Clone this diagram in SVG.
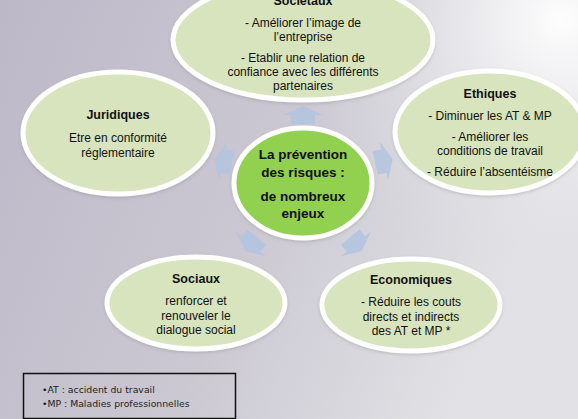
<svg xmlns="http://www.w3.org/2000/svg" width="578" height="419" viewBox="0 0 578 419">
<defs>
<linearGradient id="bg" x1="0" y1="0" x2="1" y2="0.3">
<stop offset="0" stop-color="#bdb8c8"/>
<stop offset="0.55" stop-color="#cbc8d2"/>
<stop offset="1" stop-color="#e2e2e6"/>
</linearGradient>
<radialGradient id="glow" cx="560" cy="20" r="260" gradientUnits="userSpaceOnUse">
<stop offset="0" stop-color="#ffffff" stop-opacity="0.95"/>
<stop offset="0.4" stop-color="#f2f2f4" stop-opacity="0.6"/>
<stop offset="1" stop-color="#e0e0e4" stop-opacity="0"/>
</radialGradient>
<filter id="sh" x="-10%" y="-10%" width="120%" height="125%">
<feDropShadow dx="0" dy="1.5" stdDeviation="1.5" flood-color="#666" flood-opacity="0.25"/>
</filter>
<polygon id="arr" points="0,-9 19.5,0 12,0 12,9 -12,9 -12,0 -19.5,0"/>
</defs>
<style>
.node{fill:#d7e4bd;stroke:#ffffff;stroke-width:5;filter:url(#sh)}
.hub{fill:#92d050;stroke:#ffffff;stroke-width:5;filter:url(#sh)}
text{font-family:"Liberation Sans",Arial,sans-serif;fill:#111;text-anchor:middle}
.t{font-size:12.5px;font-weight:bold}
.b{font-size:12px}
.c{font-size:13.5px;font-weight:bold}
.arrow{fill:#b0c4df;opacity:0.85}
.leg{font-family:"DejaVu Sans",Verdana,sans-serif;font-size:9.3px;text-anchor:start;fill:#222}
</style>
<rect width="578" height="419" fill="url(#bg)"/>
<rect width="578" height="419" fill="url(#glow)"/>

<g id="connectors">
<use href="#arr" class="arrow" transform="translate(303,115)"/>
<use href="#arr" class="arrow" transform="translate(223,161) rotate(-78)"/>
<use href="#arr" class="arrow" transform="translate(384,161) rotate(78)"/>
<use href="#arr" class="arrow" transform="translate(251,244) rotate(-140)"/>
<use href="#arr" class="arrow" transform="translate(356,244) rotate(140)"/>
</g>

<g id="societaux">
<ellipse class="node" cx="303" cy="40" rx="130" ry="60"/>
<text class="t" x="303" y="5">Sociétaux</text>
<text class="b" x="303" y="27">- Améliorer l’image de</text>
<text class="b" x="303" y="41">l’entreprise</text>
<text class="b" x="303" y="62">- Etablir une relation de</text>
<text class="b" x="303" y="76">confiance avec les différents</text>
<text class="b" x="303" y="90">partenaires</text>
</g>

<g id="juridiques">
<ellipse class="node" cx="118" cy="133" rx="95" ry="61"/>
<text class="t" x="118" y="119">Juridiques</text>
<text class="b" x="118" y="142">Etre en conformité</text>
<text class="b" x="118" y="157">réglementaire</text>
</g>

<g id="ethiques">
<ellipse class="node" cx="490" cy="132" rx="95" ry="61"/>
<text class="t" x="490" y="98">Ethiques</text>
<text class="b" x="490" y="120">- Diminuer les AT  &amp; MP</text>
<text class="b" x="490" y="141">- Améliorer les</text>
<text class="b" x="490" y="155">conditions de travail</text>
<text class="b" x="490" y="176">- Réduire l’absentéisme</text>
</g>

<g id="centre">
<ellipse class="hub" cx="303" cy="183" rx="69" ry="55"/>
<text class="c" x="303" y="159">La prévention</text>
<text class="c" x="303" y="177">des risques  :</text>
<text class="c" x="303" y="201">de nombreux</text>
<text class="c" x="303" y="218">enjeux</text>
</g>

<g id="sociaux">
<ellipse class="node" cx="196" cy="303" rx="89" ry="46"/>
<text class="t" x="196" y="283">Sociaux</text>
<text class="b" x="196" y="305">renforcer et</text>
<text class="b" x="196" y="320">renouveler le</text>
<text class="b" x="196" y="334">dialogue social</text>
</g>

<g id="economiques">
<ellipse class="node" cx="411" cy="305" rx="89" ry="46"/>
<text class="t" x="411" y="284">Economiques</text>
<text class="b" x="411" y="306">- Réduire les couts</text>
<text class="b" x="411" y="321">directs et indirects</text>
<text class="b" x="411" y="335">des AT et MP *</text>
</g>

<g id="legende">
<rect x="23.5" y="373.5" width="212" height="45" fill="none" stroke="#111" stroke-width="1.5"/>
<text class="leg" x="42" y="393">•AT : accident du travail</text>
<text class="leg" x="42" y="407">•MP : Maladies professionnelles</text>
</g>
</svg>
